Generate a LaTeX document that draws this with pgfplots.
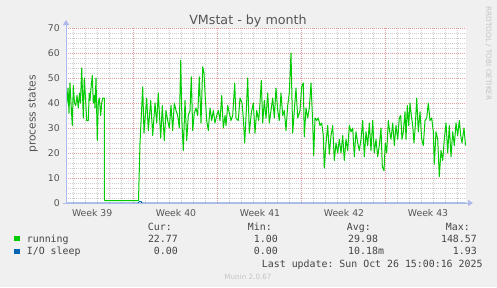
\documentclass[border=0pt]{standalone}
\usepackage{pgfplots}
\pgfplotsset{compat=1.18}
\usepackage{fontspec}
\setmainfont{DejaVu Sans}
\setmonofont{DejaVu Sans Mono}
\usetikzlibrary{arrows.meta}
\definecolor{bgc}{HTML}{F0F0F0}
\definecolor{mgrid}{HTML}{E49A9A}
\definecolor{ngrid}{HTML}{CDCDCD}
\definecolor{axc}{HTML}{AEB8EC}
\definecolor{runc}{HTML}{00CC00}
\definecolor{ioc}{HTML}{0066B3}
\definecolor{txt}{HTML}{555555}
\definecolor{legt}{HTML}{444444}
\definecolor{wm}{HTML}{C4C4C4}
\begin{document}
\begin{tikzpicture}[x=1bp,y=1bp]
\fill[bgc] (0,0) rectangle (497,287);
\useasboundingbox (0,0) rectangle (497,287);
\begin{axis}[
  at={(66bp,84bp)}, anchor=south west,
  scale only axis, width=400bp, height=175bp,
  xmin=0, xmax=400, ymin=0, ymax=70,
  axis background/.style={fill=white},
  axis line style={draw=none},
  xtick={67.3,151.4,235.5,319.6},
  xticklabels={,,,},
  minor xtick={7.2,19.2,31.2,43.3,55.3,79.3,91.3,103.3,115.4,127.4,139.4,163.4,175.4,187.5,199.5,211.5,223.5,247.5,259.5,271.6,283.6,295.6,307.6,331.6,343.6,355.7,367.7,379.7,391.7},
  ytick={0,10,...,70},
  minor ytick={2,4,6,8,12,14,16,18,22,24,26,28,32,34,36,38,42,44,46,48,52,54,56,58,62,64,66,68},
  grid=both,
  major grid style={draw=mgrid, dash pattern=on 1bp off 1bp, line width=0.8bp},
  minor grid style={draw=ngrid, dash pattern=on 1bp off 1bp, line width=0.8bp},
  major tick length=0pt, minor tick length=0pt,
  tick style={draw=none},
  /pgf/number format/assume math mode=true,
  yticklabel style={font=\fontsize{9.3bp}{11bp}\selectfont, text=txt, anchor=east, inner sep=0pt, xshift=-6bp},
]
\addplot[ioc, line width=1bp] coordinates {(0,0)(72,0)(73.5,0.6)(75,0.6)(76,0)(400,0)};
\addplot[runc, line width=1bp, line join=round] coordinates {
(0,47)(1,40)(2,46)(3,36)(4,48)(5,40)(6.3,31)(7.3,47)(8.5,40)(9.7,39)(11,43)(12.3,38)(13.5,44)(14.5,40)(15.7,54)(17.3,34)(18.3,50)(19.5,42)(20.7,33)(22.3,33)(23.2,44)(24,41)(25,46)(26.3,51)(27.3,40)(28.3,43)(29,38)(30,50)(31.3,25)(32.3,40)(33.3,42)(34.7,35)(35.7,40)(36.7,42)(38.3,42)(38.5,1)
(72.5,1)(74,24)(76.7,46.5)(78,28)(80.7,42)(82.3,29)(84.7,41)(86.7,27)(89,40)(90.7,32)(92.3,44)(94.7,26)(96.3,39)(98.3,25)(100,37)(101.7,33)(103.3,30)(105,39)(106.7,29)(108.3,40)(110,37)(111.7,35)(113.3,30)(114.7,57)(116,32)(117.3,21)(119,41)(120.7,25)(122.3,35)(124,37)(125.3,50.5)(126.7,29)(128.3,36)(130,38)(131.7,35)(133.3,50.5)(135,32)(136.7,54.5)(138,52)(139.3,42)(140.7,33)(142.3,29)(144,38)(145.7,33)(147.3,37)(149,32)(150.7,35)(152.3,37)(154,33)(155.7,43)(157.3,30)(159,35)
(160,31)(161.7,39)(163.3,36)(165,33)(166.7,35)(168.7,48)(170,34)(172.3,33)(174,42)(176,40)(177.3,34)(178.7,24)(180.3,37)(181.7,50)(183.3,28)(185.3,36)(187.3,40)(189,28)(190.7,37)(192.7,33)(194,40)(195.3,49)(196.7,32)(198.3,41)(200,34)(201.7,44)(203.3,32)(205,37)(206.7,42)(208.3,34)(210,46)(211.7,37)(213.3,33)(215,44)(216.7,35)(218.3,37)(220,29)(221.7,39)(223.3,44)(225,60)(226.7,28)(228.3,37)(230,46)(231.7,34)(233.3,36)
(234,37)(235.7,46.5)(237.3,48)(238.3,26.5)(240,38)(241.7,34)(243.3,38)(245,48)(246.7,32)(247.7,19)(249,34)(250.7,33)(252.3,34)(254,31)(255.7,32)(257.3,27)(258.3,14)(260,24)(261.7,31)(263.3,19.5)(265,27)(266.7,31)(268.3,17)(270,24)(271.7,20)(273.3,25.5)(275,20)(276.7,27)(278.3,17)(280,25.5)(281.7,21)(283.3,31)(285,28.5)(286.7,30)(288.3,18.5)(290,28.5)(291.7,24)(293.3,21)(295,25.5)(296.7,33)(298.3,18.5)(300,28.5)(301.7,23)(303.3,32)(305,21)(306.7,33)(308.3,20)(310,25.5)(311.7,18.5)(313.3,23)(315,30)(316.3,14.5)(318,13)
(319.3,24)(320.7,20)(322.3,33)(323.7,28.5)(325,25.5)(326.7,32)(328.3,23)(330,31)(331.7,25.5)(333.3,34)(334.7,35)(336,25.5)(337.3,28.5)(339,36.5)(340,25.5)(341.3,39)(342.7,31)(344,40)(345.3,35)(346.7,31)(348,24)(349.3,31)(350.7,42)(352.3,28.5)(354,36.5)(355.7,25.5)(357.3,23)(359,33)(360.7,34)(362.3,40)(364,33)(365.7,34)(367.3,28.5)(368.3,15.5)(370,28.5)(371.7,25.5)(373.3,10.5)(375,21)(376.7,17)(378.3,25.5)(380,32)(381.7,20)(383.3,31)(385,18.5)(386.7,28.5)(388.3,23)(390,32)(391.7,27)(393.3,33)(394.7,27)(396,24)(398,30)(399.5,23)
};
\end{axis}
% axis lines with arrows
\draw[axc, line width=1bp, -{Triangle[length=5bp,width=6bp]}] (66,84) -- (66,267);
\draw[axc, line width=1bp, -{Triangle[length=5bp,width=6bp]}] (63,84) -- (473,84);
% texts
\node[anchor=base, inner sep=0pt, text=txt, font=\fontsize{12.7bp}{14bp}\selectfont] at (248,263) {VMstat - by month};
\node[rotate=90, inner sep=0pt, text=txt, font=\fontsize{10.7bp}{12bp}\selectfont] at (33,173) {process states};
\node[rotate=-90, inner sep=0pt, text=wm, font=\fontsize{7.3bp}{8bp}\selectfont] at (488.5,233.5) {RRDTOOL / TOBI OETIKER};
\foreach \xx/\lab in {26.2/Week 39, 110/Week 40, 194/Week 41, 278/Week 42, 362/Week 43}{
  \node[anchor=base, inner sep=0pt, text=txt, font=\fontsize{9.3bp}{11bp}\selectfont] at (66+\xx,71) {\lab};
}
% legend
\begin{scope}[every node/.style={inner sep=0pt, text=legt, font=\fontsize{9.9bp}{11bp}\ttfamily}]
\node[anchor=base east] at (172,56.7) {Cur:};
\node[anchor=base east] at (272,56.7) {Min:};
\node[anchor=base east] at (371,56.7) {Avg:};
\node[anchor=base east] at (470,56.7) {Max:};
\fill[runc] (14,46) rectangle (19.5,51.5);
\node[anchor=base west] at (26.7,44.3) {running};
\node[anchor=base east] at (178,44.3) {22.77};
\node[anchor=base east] at (278,44.3) {1.00};
\node[anchor=base west] at (348,44.3) {29.98};
\node[anchor=base east] at (477,44.3) {148.57};
\fill[ioc] (14,33) rectangle (19.5,38.5);
\node[anchor=base west] at (26.7,32.3) {I/O sleep};
\node[anchor=base east] at (178,32.3) {0.00};
\node[anchor=base east] at (278,32.3) {0.00};
\node[anchor=base west] at (348,32.3) {10.18m};
\node[anchor=base east] at (477,32.3) {1.93};
\node[anchor=base east] at (482.7,20) {Last update: Sun Oct 26 15:00:16 2025};
\end{scope}
\node[anchor=base, inner sep=0pt, text=wm, font=\fontsize{7.2bp}{8bp}\selectfont] at (248,8) {Munin 2.0.67};
\end{tikzpicture}
\end{document}
